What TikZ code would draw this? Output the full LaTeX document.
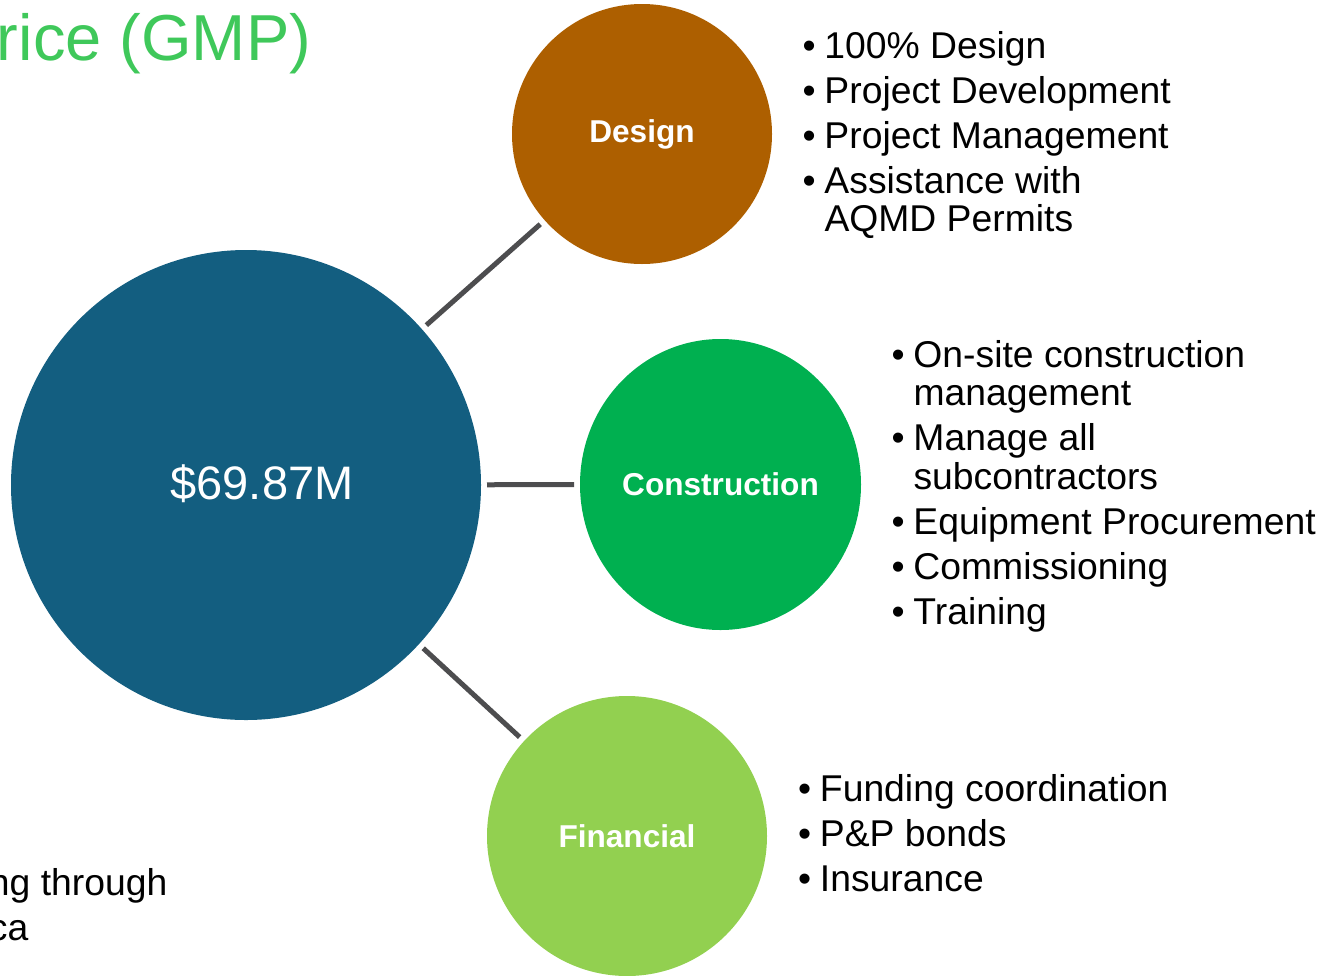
\documentclass[tikz,border=0pt]{standalone}
\usepackage{fontspec}
\setmainfont{Liberation Sans}
\usetikzlibrary{shapes.geometric}
\definecolor{gmpblue}{HTML}{135E80}
\definecolor{gmpbrown}{HTML}{AD5F00}
\definecolor{gmpgreen}{HTML}{00B050}
\definecolor{gmplime}{HTML}{92D050}
\definecolor{gmptitle}{HTML}{3FC85A}
\definecolor{gmpline}{HTML}{4D4D4F}
\tikzset{every node/.style={inner sep=0pt,outer sep=0pt},line cap=round,line join=round}
\tikzset{
  hub/.style={circle,fill=gmpblue,minimum size=470pt},
  part/.style={ellipse,minimum width=#1,minimum height=#1,text=white,font=\fontsize{31.6}{34}\selectfont\bfseries},
  link/.style={draw=gmpline,line width=5pt,line cap=butt,shorten <=6pt,shorten >=6pt},
  list/.style={anchor=base west,font=\fontsize{37.3}{38.5}\selectfont}
}
\newcommand{\li}{\makebox[22pt][l]{\textbullet}}

\begin{document}
\begin{tikzpicture}[x=1pt,y=-1pt]
  \path[use as bounding box] (0,0) rectangle (1328,975);
  \node[anchor=base west,text=gmptitle,font=\fontsize{65}{70}\selectfont] (title) at (-3,60) {rice (GMP)};

  % centre and the three parts
  \node[hub] (main) at (246,485) {};
  \node[text=white,font=\fontsize{47}{50}\selectfont] (amount) at (262,484) {\$69.87M};
  \node[part=260pt,fill=gmpbrown] (design) at (642,134) {Design};
  \node[part=281pt,minimum height=291pt,fill=gmpgreen] (build) at (720.5,484.5) {Construction};
  \node[part=280pt,fill=gmplime] (money) at (627,836) {Financial};

  \draw[link] (main) -- (design);
  \draw[link] (main) -- (build);
  \draw[link] (main) -- (money);

  % bullet lists
  \node[list] (designlist) at (802.5,58) {\begin{tabular}[t]{@{}l@{}l@{}}
    \li & 100\% Design\\[6.5pt]
    \li & Project Development\\[6.5pt]
    \li & Project Management\\[6.5pt]
    \li & Assistance with\\
        & AQMD Permits
  \end{tabular}};
  \node[list] (buildlist) at (891.5,367) {\begin{tabular}[t]{@{}l@{}l@{}}
    \li & On-site construction\\
        & management\\[6.5pt]
    \li & Manage all\\
        & subcontractors\\[6.5pt]
    \li & Equipment Procurement\\[6.5pt]
    \li & Commissioning\\[6.5pt]
    \li & Training
  \end{tabular}};
  \node[list] (moneylist) at (798,801) {\begin{tabular}[t]{@{}l@{}l@{}}
    \li & Funding coordination\\[6.5pt]
    \li & P\&P bonds\\[6.5pt]
    \li & Insurance
  \end{tabular}};

  \node[anchor=base west,font=\fontsize{37.3}{45}\selectfont] (note) at (-11,895)
    {\begin{tabular}[t]{@{}l@{}}ng through\\ca\end{tabular}};
\end{tikzpicture}
\end{document}
